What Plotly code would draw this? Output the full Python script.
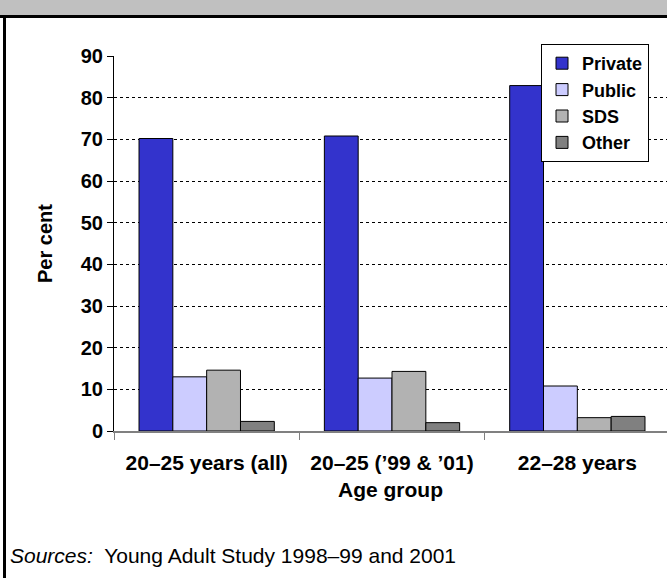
import plotly.graph_objects as go

categories = ["20–25 years (all)", "20–25 (’99 & ’01)", "22–28 years"]
series_names = ["Private", "Public", "SDS", "Other"]
private = [70.2, 70.8, 82.9]
public = [13.0, 12.7, 10.8]
sds = [14.6, 14.3, 3.2]
other = [2.3, 2.0, 3.5]
y_ticks = [0, 10, 20, 30, 40, 50, 60, 70, 80, 90]

colors = ["#3333CC", "#CCCCFF", "#B2B2B2", "#808080"]
FONT = "Liberation Sans, Arial, sans-serif"

W, H = 667, 578
L, R, T, B = 114, 0, 56, 147

fig = go.Figure()
for name, vals, c in zip(series_names, [private, public, sds, other], colors):
    fig.add_trace(go.Bar(
        x=categories, y=vals, name=name,
        marker=dict(color=c, line=dict(color="#000000", width=1)),
    ))

pw = W - L - R
ph = H - T - B

def px_x(p):
    return (p - L) / pw

def px_y(p):
    return (H - B - p) / ph

shapes = [
    dict(type="rect", xref="paper", yref="paper", x0=px_x(-2), x1=px_x(W + 2),
         y0=px_y(15), y1=px_y(-2), fillcolor="#C0C0C0", line=dict(width=0), layer="below"),
    dict(type="line", xref="paper", yref="paper", x0=px_x(-2), x1=px_x(W + 2),
         y0=px_y(16.5), y1=px_y(16.5), line=dict(color="#000000", width=3)),
    dict(type="line", xref="paper", yref="paper", x0=px_x(4.5), x1=px_x(4.5),
         y0=px_y(15), y1=px_y(H + 2), line=dict(color="#000000", width=3)),
]

fig.update_layout(
    width=W, height=H,
    margin=dict(l=L, r=R, t=T, b=B, pad=0, autoexpand=False),
    paper_bgcolor="white", plot_bgcolor="white",
    barmode="group", bargap=0.27, bargroupgap=0,
    font=dict(family=FONT, size=20, color="#000000"),
    showlegend=True,
    legend=dict(
        x=px_x(649), y=px_y(44), xanchor="right", yanchor="top",
        bgcolor="white", bordercolor="#000000", borderwidth=1,
        font=dict(family=FONT, size=18, color="#000000", weight="bold"),
        tracegroupgap=0,
    ),
    shapes=shapes,
    annotations=[
        dict(xref="paper", yref="paper", x=px_x(8), y=px_y(555), xanchor="left", yanchor="middle",
             showarrow=False, align="left",
             text="<i>Sources:</i>  Young Adult Study 1998–99 and 2001",
             font=dict(family=FONT, size=21, color="#000000")),
    ],
)

fig.update_xaxes(
    type="category",
    range=[-0.5, 2.5 - 3 / 185],
    showline=True, linecolor="#808080", linewidth=1.5,
    ticks="outside", tickson="boundaries", ticklen=7, tickcolor="#808080", tickwidth=1,
    ticklabelstandoff=12, automargin=False,
    tickfont=dict(family=FONT, size=21, color="#000000", weight="bold"),
    showgrid=False, zeroline=False,
    title=dict(text="<b>Age group</b>", font=dict(family=FONT, size=21, color="#000000"), standoff=9),
)

fig.update_yaxes(
    range=[0, 90], tickvals=y_ticks,
    showline=True, linecolor="#000000", linewidth=1,
    ticks="outside", ticklen=6, tickcolor="#000000", automargin=False,
    tickfont=dict(family=FONT, size=20, color="#000000", weight="bold"),
    showgrid=True, gridcolor="#000000", griddash="dot", gridwidth=1,
    zeroline=False,
    title=dict(text="<b>Per cent</b>", font=dict(family=FONT, size=20, color="#000000"), standoff=22),
)

fig.write_html(
    "out.html",
    config={"displayModeBar": False},
    post_script="document.body.style.margin='0';document.body.style.overflow='hidden';",
)
